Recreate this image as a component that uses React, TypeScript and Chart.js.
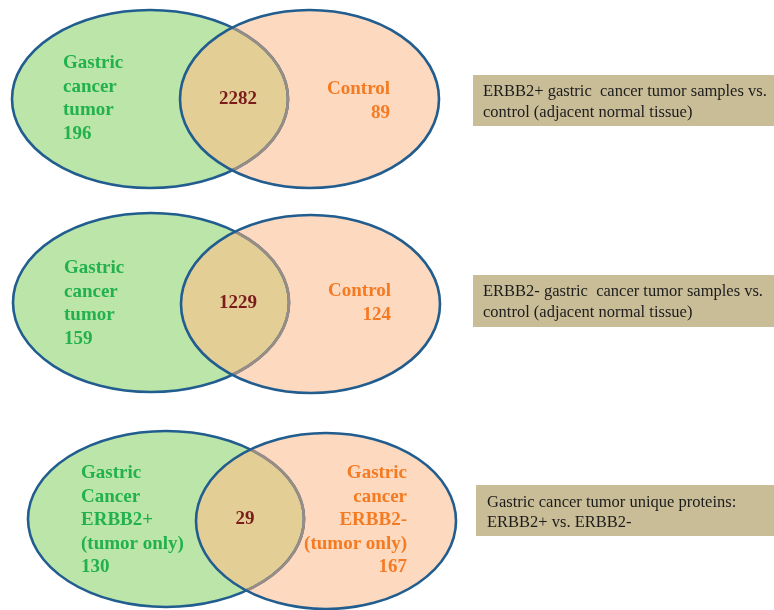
import React, { useEffect, useRef } from "react";
import { Chart, registerables } from "chart.js";

Chart.register(...registerables);

// ---- data ----
const leftNames: string[][] = [
  ["Gastric", "cancer", "tumor"],
  ["Gastric", "cancer", "tumor"],
  ["Gastric", "Cancer", "ERBB2+", "(tumor only)"],
];
const leftCounts: number[] = [196, 159, 130];
const rightNames: string[][] = [
  ["Control"],
  ["Control"],
  ["Gastric", "cancer", "ERBB2-", "(tumor only)"],
];
const rightCounts: number[] = [89, 124, 167];
const sharedCounts: number[] = [2282, 1229, 29];
const descriptions: string[][] = [
  ["ERBB2+ gastric  cancer tumor samples vs.", "control (adjacent normal tissue)"],
  ["ERBB2- gastric  cancer tumor samples vs.", "control (adjacent normal tissue)"],
  ["Gastric cancer tumor unique proteins:", "ERBB2+ vs. ERBB2-"],
];

// ---- layout (positions in scale units) ----
const layout = [
  {
    L: [150, 99, 138, 89], R: [309.5, 99, 129.5, 89],
    lx: 63, ly: 63, rx: 390, ry: 89, c: [238, 99],
    box: [473, 75, 301, 51], tx: 483, ty: [92, 113],
  },
  {
    L: [151, 302.5, 138, 89.5], R: [310.5, 304, 129.5, 89],
    lx: 64, ly: 268, rx: 391, ry: 291, c: [238, 303],
    box: [473, 275, 301, 52], tx: 483, ty: [292, 313],
  },
  {
    L: [166, 519, 138, 88], R: [326, 521, 130, 88],
    lx: 81, ly: 473, rx: 407, ry: 473, c: [245, 519],
    box: [476, 485, 298, 51], tx: 487, ty: [503, 523],
  },
];

const GREEN_FILL = "#bce6a9";
const PEACH_FILL = "#fdd9bf";
const MID_FILL = "#e3cf96";
const OUTLINE = "#215d8f";
const INNER_LINE = "#978d84";
const GREEN_TEXT = "#22b14c";
const ORANGE_TEXT = "#f57b22";
const MID_TEXT = "#7a1c1c";
const BOX_FILL = "#c9bd98";
const BOX_TEXT = "#1c1c1c";
const LH = 23.6;

const vennPlugin = {
  id: "venn",
  afterDraw(chart: any) {
    const ctx: CanvasRenderingContext2D = chart.ctx;
    const xs = chart.scales.x;
    const ys = chart.scales.y;
    const px = (v: number) => xs.getPixelForValue(v);
    const py = (v: number) => ys.getPixelForValue(v);
    const path = (e: number[]) => {
      const cx = px(e[0]);
      const cy = py(e[1]);
      const rx = Math.abs(px(e[0] + e[2]) - cx);
      const ry = Math.abs(py(e[1] + e[3]) - cy);
      ctx.beginPath();
      ctx.ellipse(cx, cy, rx, ry, 0, 0, Math.PI * 2);
    };
    layout.forEach((p, i) => {
      ctx.save();
      // fills
      path(p.L); ctx.fillStyle = GREEN_FILL; ctx.fill();
      path(p.R); ctx.fillStyle = PEACH_FILL; ctx.fill();
      ctx.save();
      path(p.L); ctx.clip();
      path(p.R); ctx.fillStyle = MID_FILL; ctx.fill();
      ctx.restore();
      // outlines
      ctx.lineWidth = 2.6;
      path(p.L); ctx.strokeStyle = OUTLINE; ctx.stroke();
      ctx.save();
      path(p.R); ctx.clip();
      path(p.L); ctx.strokeStyle = INNER_LINE; ctx.lineWidth = 2.8; ctx.stroke();
      ctx.restore();
      ctx.lineWidth = 2.6;
      path(p.R); ctx.strokeStyle = OUTLINE; ctx.stroke();

      // labels
      ctx.font = "bold 19px 'Liberation Serif', 'Times New Roman', serif";
      ctx.textBaseline = "middle";
      ctx.textAlign = "left";
      ctx.fillStyle = GREEN_TEXT;
      const lLines = [...leftNames[i], String(leftCounts[i])];
      lLines.forEach((t, k) => ctx.fillText(t, px(p.lx), py(p.ly + k * LH)));
      ctx.textAlign = "right";
      ctx.fillStyle = ORANGE_TEXT;
      const rLines = [...rightNames[i], String(rightCounts[i])];
      rLines.forEach((t, k) => ctx.fillText(t, px(p.rx), py(p.ry + k * LH)));
      ctx.textAlign = "center";
      ctx.fillStyle = MID_TEXT;
      ctx.fillText(String(sharedCounts[i]), px(p.c[0]), py(p.c[1]));

      // description box
      const b = p.box;
      ctx.fillStyle = BOX_FILL;
      ctx.fillRect(px(b[0]), py(b[1]), px(b[0] + b[2]) - px(b[0]), py(b[1] + b[3]) - py(b[1]));
      ctx.font = "16.5px 'Liberation Serif', 'Times New Roman', serif";
      ctx.textAlign = "left";
      ctx.fillStyle = BOX_TEXT;
      descriptions[i].forEach((t, k) => ctx.fillText(t, px(p.tx), py(p.ty[k])));
      ctx.restore();
    });
  },
};

export default function App() {
  const ref = useRef<HTMLCanvasElement | null>(null);
  useEffect(() => {
    document.body.style.margin = "0";
    const canvas = ref.current!;
    const chart = new Chart(canvas, {
      type: "scatter",
      data: { datasets: [{ data: [], pointRadius: 0 }] },
      options: {
        animation: false,
        responsive: false,
        devicePixelRatio: 1,
        layout: { padding: 0 },
        plugins: { legend: { display: false }, tooltip: { enabled: false } },
        scales: {
          x: { type: "linear", min: 0, max: 774, display: false },
          y: { type: "linear", min: 0, max: 610, reverse: true, display: false },
        },
      },
      plugins: [vennPlugin],
    });
    return () => chart.destroy();
  }, []);
  return (
    <div style={{ width: 774, height: 610, background: "#fff" }}>
      <canvas ref={ref} width={774} height={610} style={{ display: "block" }} />
    </div>
  );
}
